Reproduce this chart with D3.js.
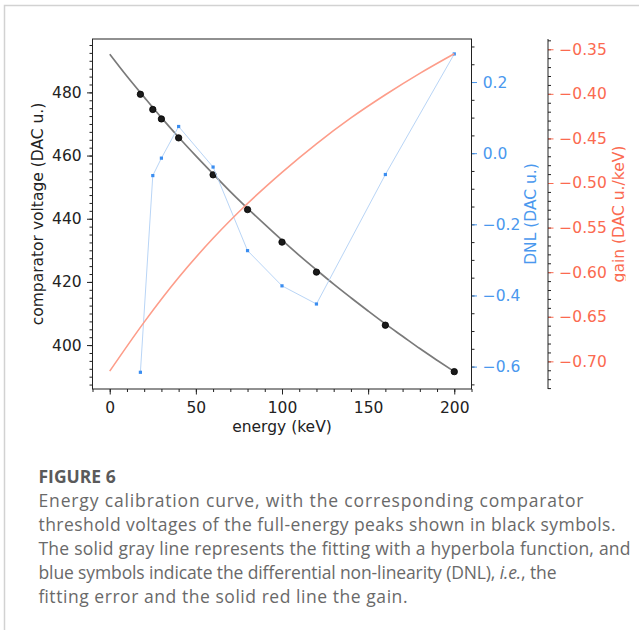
<!doctype html>
<html>
<head>
<meta charset="utf-8">
<title>Figure 6</title>
<script src="https://d3js.org/d3.v7.min.js"></script>
<style>
  body { margin: 0; background: #fff; }
  .tick text { font-family: "DejaVu Sans", sans-serif; font-size: 15.5px; }
  .lbl { font-family: "DejaVu Sans", sans-serif; font-size: 15.5px; }
  .cap { font-family: "Open Sans", sans-serif; font-size: 17.5px; fill: #696969; }
</style>
</head>
<body>
<script>
// black symbols: full-energy peaks
var energy  = [17.8, 25, 30, 40, 60, 80, 100, 120, 160, 200];
var voltage = [479.4, 474.6, 471.6, 465.6, 453.9, 442.9, 432.6, 423.1, 406.3, 391.6];
// blue symbols: DNL
var dnl = [-0.616, -0.063, -0.014, 0.075, -0.039, -0.274, -0.373, -0.424, -0.060, 0.279];
// gray fit line
var fitEnergy  = [0, 10, 20, 30, 40, 50, 60, 70, 80, 90, 100, 110, 120, 130, 140, 150, 160, 170, 180, 190, 200];
var fitVoltage = [492.1, 485.1, 478.5, 472.0, 465.8, 459.9, 454.2, 448.6, 443.3, 438.2, 433.2,
                  428.4, 423.8, 419.3, 415.0, 410.8, 406.7, 402.8, 398.9, 395.2, 391.6];
// red gain line
var gainEnergy = [0, 20, 40, 60, 80, 100, 120, 140, 160, 180, 200];
var gainValues = [-0.711, -0.656, -0.606, -0.562, -0.523, -0.488, -0.456, -0.427, -0.401, -0.377, -0.355];

// tick labels
var energyTicks = [0, 50, 100, 150, 200];
var voltTicks = [400, 420, 440, 460, 480];
var dnlTicks = [-0.6, -0.4, -0.2, 0.0, 0.2];
var gainTicks = [-0.70, -0.65, -0.60, -0.55, -0.50, -0.45, -0.40, -0.35];

var width = 639, height = 630;
var box = {left: 92.5, right: 471.5, top: 39, bottom: 389};

var svg = d3.select("body").append("svg")
    .attr("width", width)
    .attr("height", height);

svg.append("rect").attr("width", width).attr("height", height).attr("fill", "#fff");

// page frame
svg.append("path")
    .attr("d", "M4.5," + height + "V5.5H" + width)
    .attr("fill", "none")
    .attr("stroke", "#d2d2d2")
    .attr("stroke-width", 1.5);

var x = d3.scaleLinear().domain([-10, 210]).range([box.left, box.right]);
var yV = d3.scaleLinear().domain([386.1, 496.9]).range([box.bottom, box.top]);
var yD = d3.scaleLinear().domain([-0.663, 0.321]).range([box.bottom, box.top]);
var yG = d3.scaleLinear().domain([-0.731, -0.3385]).range([box.bottom, box.top]);

var blue = "#4a98ee", red = "#fb6a50";

function drawAxis(gen, tx, ty, color, minorColor, minor) {
    var g = svg.append("g").attr("transform", "translate(" + tx + "," + ty + ")").call(gen);
    g.select(".domain").remove();
    g.selectAll(".tick line").attr("stroke", minor ? minorColor : color).attr("stroke-width", 1);
    g.selectAll(".tick text").attr("fill", color);
    return g;
}

// bottom axis
drawAxis(d3.axisBottom(x).tickValues(d3.range(-10, 211, 10)).tickSize(3).tickFormat(""), 0, box.bottom, "#222", "#222", true);
drawAxis(d3.axisBottom(x).tickValues(energyTicks).tickSize(5.5).tickPadding(7.5).tickFormat(d3.format("d")), 0, box.bottom, "#222");
// left axis
drawAxis(d3.axisLeft(yV).tickValues(d3.range(387.5, 497, 2.5)).tickSize(3).tickFormat(""), box.left, 0, "#222", "#222", true);
drawAxis(d3.axisLeft(yV).tickValues(voltTicks).tickSize(5.5).tickPadding(5.3).tickFormat(d3.format("d")), box.left, 0, "#222");
// DNL axis
drawAxis(d3.axisRight(yD).tickValues(d3.range(-0.65, 0.33, 0.05)).tickSize(3).tickFormat(""), box.right, 0, "#222", "#222", true);
drawAxis(d3.axisRight(yD).tickValues(dnlTicks).tickSize(5.5).tickPadding(5.7).tickFormat(d3.format(".1f")), box.right, 0, blue);
// gain axis
var gx = 548;
drawAxis(d3.axisRight(yG).tickValues(d3.range(-0.73, -0.335, 0.01)).tickSize(3).tickFormat(""), gx, 0, "#222", "#222", true);
drawAxis(d3.axisRight(yG).tickValues(gainTicks).tickSize(5.5).tickPadding(5.8).tickFormat(d3.format(".2f")), gx, 0, red);
svg.append("line")
    .attr("x1", gx).attr("x2", gx)
    .attr("y1", box.top).attr("y2", box.bottom)
    .attr("stroke", "#222").attr("stroke-width", 1);

// gray fit line
var fitLine = d3.line()
    .x(function(d, i) { return x(fitEnergy[i]); })
    .y(function(d) { return yV(d); })
    .curve(d3.curveMonotoneX);
svg.append("path")
    .attr("d", fitLine(fitVoltage))
    .attr("fill", "none")
    .attr("stroke", "#7a7a7a")
    .attr("stroke-width", 1.7);

// black symbols
svg.selectAll("circle.peak")
    .data(voltage)
    .enter()
    .append("circle")
    .attr("class", "peak")
    .attr("cx", function(d, i) { return x(energy[i]); })
    .attr("cy", function(d) { return yV(d); })
    .attr("r", 3.2)
    .attr("fill", "#1a1a1a")
    .attr("stroke", "#000")
    .attr("stroke-width", 0.8);

// DNL
var dnlLine = d3.line()
    .x(function(d, i) { return x(energy[i]); })
    .y(function(d) { return yD(d); });
svg.append("path")
    .attr("d", dnlLine(dnl))
    .attr("fill", "none")
    .attr("stroke", "#b9d5f6")
    .attr("stroke-width", 1);
svg.selectAll("rect.dnl")
    .data(dnl)
    .enter()
    .append("rect")
    .attr("class", "dnl")
    .attr("x", function(d, i) { return x(energy[i]) - 1.6; })
    .attr("y", function(d) { return yD(d) - 1.6; })
    .attr("width", 3.2)
    .attr("height", 3.2)
    .attr("fill", "#3a8df0");

// gain
var gainLine = d3.line()
    .x(function(d, i) { return x(gainEnergy[i]); })
    .y(function(d) { return yG(d); })
    .curve(d3.curveMonotoneX);
svg.append("path")
    .attr("d", gainLine(gainValues))
    .attr("fill", "none")
    .attr("stroke", "#fd9d8a")
    .attr("stroke-width", 1.6);

// main frame
svg.append("rect")
    .attr("x", box.left).attr("y", box.top)
    .attr("width", box.right - box.left)
    .attr("height", box.bottom - box.top)
    .attr("fill", "none")
    .attr("stroke", "#222")
    .attr("stroke-width", 1);

// axis titles
var midY = (box.top + box.bottom) / 2;
svg.append("text").attr("class", "lbl")
    .attr("x", (box.left + box.right) / 2).attr("y", 432)
    .attr("text-anchor", "middle").attr("fill", "#222")
    .text("energy (keV)");
svg.append("text").attr("class", "lbl")
    .attr("transform", "translate(43," + midY + ") rotate(-90)")
    .attr("text-anchor", "middle").attr("fill", "#222")
    .text("comparator voltage (DAC u.)");
svg.append("text").attr("class", "lbl")
    .attr("transform", "translate(535.5," + midY + ") rotate(-90)")
    .attr("text-anchor", "middle").attr("fill", blue)
    .text("DNL (DAC u.)");

// the gain title is cut off at the right edge of the original figure
svg.append("clipPath").attr("id", "cut")
    .append("rect").attr("x", 0).attr("y", 0).attr("width", 625.5).attr("height", height);
svg.append("g").attr("clip-path", "url(#cut)")
    .append("text").attr("class", "lbl")
    .attr("transform", "translate(623.5," + midY + ") rotate(-90)")
    .attr("text-anchor", "middle").attr("fill", red)
    .text("gain (DAC u./keV)");

// caption
var capLines = [
    "Energy calibration curve, with the corresponding comparator",
    "threshold voltages of the full-energy peaks shown in black symbols.",
    "The solid gray line represents the fitting with a hyperbola function, and",
    null,
    "fitting error and the solid red line the gain."
];
var capWidths = [545, 577, 592, 518, 369];
svg.append("text")
    .attr("x", 38.5).attr("y", 483)
    .attr("font-family", "'Open Sans', sans-serif")
    .attr("font-size", "17.5px")
    .attr("font-weight", "bold")
    .attr("fill", "#5a5a5a")
    .text("FIGURE 6");
capLines.forEach(function(t, i) {
    var tx = svg.append("text").attr("class", "cap")
        .attr("x", 38.5).attr("y", 507 + i * 24)
        .attr("textLength", capWidths[i])
        .attr("lengthAdjust", "spacing");
    if (t) {
        tx.text(t);
    } else {
        tx.append("tspan").text("blue symbols indicate the differential non-linearity (DNL), ");
        tx.append("tspan").attr("font-style", "italic").text("i.e.");
        tx.append("tspan").text(", the");
    }
});
</script>
</body>
</html>
